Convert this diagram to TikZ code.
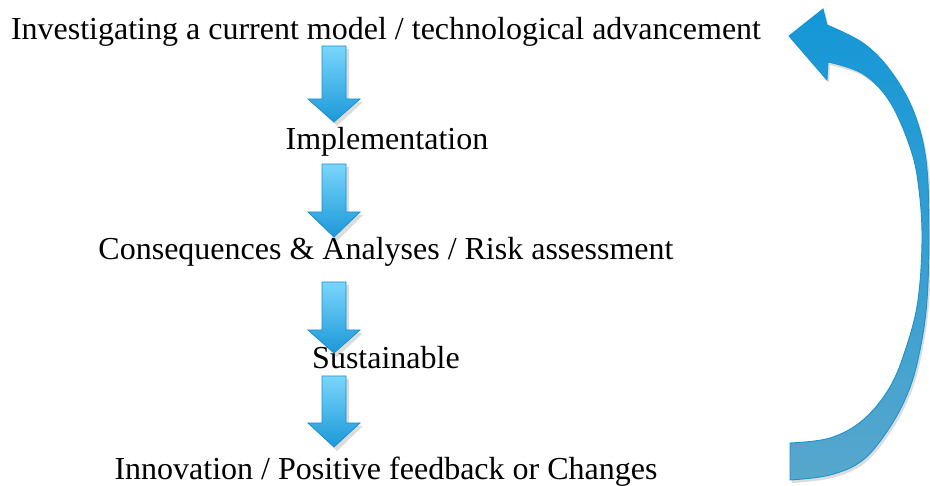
\documentclass[tikz,border=0pt]{standalone}
\usepackage{fontspec}
\setmainfont{Liberation Serif}
\definecolor{dtop}{HTML}{7AD6FC}
\definecolor{dbot}{HTML}{1B98D8}
\definecolor{dline}{HTML}{1A90D0}
\definecolor{ctop}{HTML}{1497D7}
\definecolor{cmid}{HTML}{3FB2EA}
\definecolor{cbot}{HTML}{57A7CC}
\definecolor{cline}{HTML}{1A93CF}
\tikzset{
  lbl/.style={font=\fontsize{32}{37}\selectfont, anchor=base, inner sep=0pt},
  dnarrow/.style={draw=dline, line width=0.8pt, top color=dtop, bottom color=dbot},
  bigarrow/.style={draw=cline, line width=0.9pt, top color=ctop, middle color=cmid, bottom color=cbot},
  shad/.style={fill=black!30, opacity=0.45}
}
\begin{document}
\begin{tikzpicture}[x=1pt,y=-1pt]
\useasboundingbox (0,0) rectangle (930,486);
% labels
\node[lbl] (l1) at (386,40) {Investigating a current model / technological advancement};
\node[lbl] (l2) at (387,150) {Implementation};
\node[lbl] (l3) at (386,260) {Consequences \& Analyses / Risk assessment};
\node[lbl] (l5) at (386,480) {Innovation / Positive feedback or Changes};
% down arrows
\foreach \t/\h/\p in {46/99/122,164/212/237,282/330/353,376/423/447}{
  \fill[shad] (324,\t+3) -- (349,\t+3) -- (349,\h+3) -- (363,\h+3) -- (337,\p+4) -- (311,\h+3) -- (324,\h+3) -- cycle;
  \draw[dnarrow] (322,\t) -- (346,\t) -- (346,\h) -- (360,\h) -- (334,\p) -- (308,\h) -- (322,\h) -- cycle;
}
\node[lbl] (l4) at (386,369) {Sustainable};
% big curved return arrow
\begin{scope}[shift={(2,3)}]
\fill[shad] (790,480) -- (790,443)
  -- plot[smooth, tension=0.6] coordinates {(790,443) (830,438) (863,420) (890,387) (907,345) (918,300) (922,240) (919,190) (911,150) (890,102) (863,74) (828,62)}
  -- (827,80) -- (789,36) -- (823,9) -- (827,25)
  -- plot[smooth, tension=0.6] coordinates {(827,25) (863,43) (890,70) (913,110) (926,160) (929,230) (927,300) (920,350) (909,390) (890,427) (863,460) (830,475) (790,480)}
  -- cycle;
\end{scope}
\draw[bigarrow] (790,480) -- (790,443)
  -- plot[smooth, tension=0.6] coordinates {(790,443) (830,438) (863,420) (890,387) (907,345) (918,300) (922,240) (919,190) (911,150) (890,102) (863,74) (828,62)}
  -- (827,80) -- (789,36) -- (823,9) -- (827,25)
  -- plot[smooth, tension=0.6] coordinates {(827,25) (863,43) (890,70) (913,110) (926,160) (929,230) (927,300) (920,350) (909,390) (890,427) (863,460) (830,475) (790,480)}
  -- cycle;
\end{tikzpicture}
\end{document}
